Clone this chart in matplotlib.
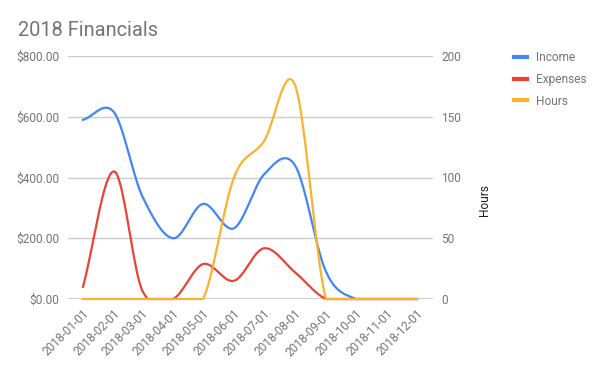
import matplotlib
matplotlib.use('Agg')
import matplotlib.pyplot as plt
import matplotlib.dates as mdates
import numpy as np

months = ['2018-01-01', '2018-02-01', '2018-03-01', '2018-04-01', '2018-05-01', '2018-06-01',
          '2018-07-01', '2018-08-01', '2018-09-01', '2018-10-01', '2018-11-01', '2018-12-01']
income = [590, 615, 340, 200, 313, 233, 410, 440, 90, 0, 0, 0]
expenses = [40, 420, 30, 0, 115, 60, 167, 88, 0, 0, 0, 0]
hours = [0, 0, 0, 0, 0, 100, 130, 176, 0, 0, 0, 0]

GRAY = '#757575'
plt.rcParams['font.family'] = ['Roboto', 'DejaVu Sans']


def smooth(xs, ys, n=40):
    # catmull-rom curve through the points, flattened at zero like the original chart
    xs = np.asarray(xs, float)
    ys = np.asarray(ys, float)
    m = np.empty_like(ys)
    m[1:-1] = (ys[2:] - ys[:-2]) / 2
    m[0] = ys[1] - ys[0]
    m[-1] = ys[-1] - ys[-2]
    px, py = [], []
    t = np.linspace(0, 1, n)
    h00 = 2 * t**3 - 3 * t**2 + 1
    h10 = t**3 - 2 * t**2 + t
    h01 = -2 * t**3 + 3 * t**2
    h11 = t**3 - t**2
    for i in range(len(xs) - 1):
        px.append(xs[i] + t * (xs[i + 1] - xs[i]))
        py.append(h00 * ys[i] + h10 * m[i] + h01 * ys[i + 1] + h11 * m[i + 1])
    return np.concatenate(px), np.maximum(np.concatenate(py), 0)


x = mdates.datestr2num(months)

fig = plt.figure(figsize=(6, 3.71), dpi=100)
ax = fig.add_axes([68 / 600, (371 - 299) / 371, 365 / 600, 243 / 371])
ax2 = ax.twinx()

for vals, col, lab in [(income, '#4285f4', 'Income'), (expenses, '#ea4335', 'Expenses')]:
    sx, sy = smooth(x, vals)
    ax.plot(sx, sy, color=col, lw=1.6, label=lab, clip_on=False, zorder=3)
sx, sy = smooth(x, hours)
ax2.plot(sx, sy, color='#fbb22c', lw=1.6, label='Hours', clip_on=False, zorder=3)

ax.set_xlim(x[0] - 15, x[-1] + 16)
ax.set_ylim(0, 800)
ax2.set_ylim(0, 200)
ax.set_yticks([0, 200, 400, 600, 800])
ax.set_yticklabels(['$%.2f' % v for v in [0, 200, 400, 600, 800]])
ax2.set_yticks([0, 50, 100, 150, 200])
ax.grid(axis='y', color='#cccccc', lw=1)
ax.axhline(0, color='#333333', lw=1, zorder=2)
ax.set_xticks(x)
ax.set_xticklabels(months, rotation=45, ha='right', rotation_mode='anchor')

for a in (ax, ax2):
    for s in a.spines.values():
        s.set_visible(False)
    a.tick_params(length=0, colors=GRAY, labelsize=8.6)
ax.tick_params(axis='y', pad=6)
ax.tick_params(axis='x', pad=6)
ax2.tick_params(axis='y', pad=6)

ax2.set_ylabel('Hours', color='#222222', fontsize=8.6)
ax2.yaxis.set_label_coords(1.122, 0.407)

fig.text(18 / 600, 1 - 36 / 371, '2018 Financials', fontsize=14.4, color=GRAY)

h1, l1 = ax.get_legend_handles_labels()
h2, l2 = ax2.get_legend_handles_labels()
leg = fig.legend(h1 + h2, l1 + l2, loc='upper left', bbox_to_anchor=(503 / 600, 1 - 40 / 371),
                 frameon=False, fontsize=8.6, handlelength=1.1, handletextpad=0.8,
                 labelspacing=0.75, labelcolor=GRAY)
for ln in leg.get_lines():
    ln.set_linewidth(3)

fig.savefig('out.png', dpi=100)
